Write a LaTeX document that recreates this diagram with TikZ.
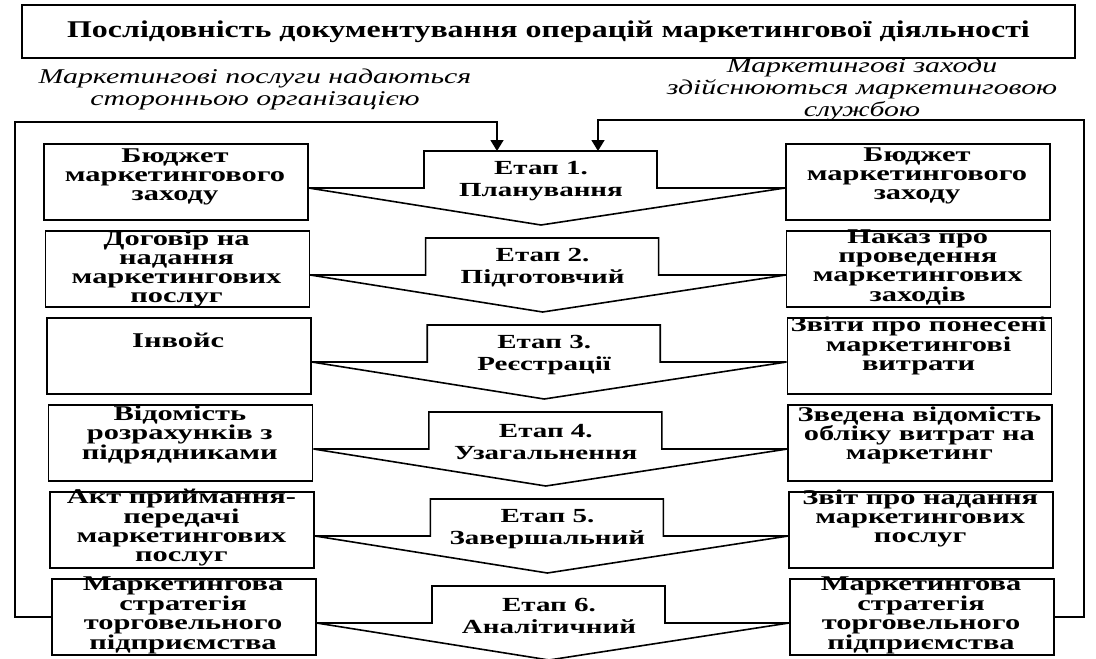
\documentclass[tikz,border=0pt]{standalone}
\usepackage{fontspec}
\setmainfont{Liberation Serif}[FakeStretch=1.45]
\newfontfamily\ttlfont{Liberation Serif}[FakeStretch=1.33]
\newfontfamily\boxfont{Liberation Serif}[FakeStretch=1.45]
\newfontfamily\capfont{Liberation Serif}[FakeStretch=1.42]
\usetikzlibrary{arrows.meta}
\begin{document}
\begin{tikzpicture}[x=1pt,y=-1pt,
  ln/.style={line width=1.6pt},
  lbox/.style={draw, ln, minimum width=264pt, minimum height=76pt, inner sep=0pt, anchor=north west},
  rbox/.style={draw, ln, minimum width=264pt, minimum height=76pt, inner sep=0pt, anchor=north west},
  btxt/.style={align=center, font=\boxfont\fontsize{21}{19}\selectfont\bfseries, inner sep=0pt},
  stxt/.style={align=center, font=\boxfont\fontsize{20}{22}\selectfont\bfseries, inner sep=0pt},
  ctxt/.style={align=center, font=\capfont\fontsize{21}{22}\selectfont\itshape, inner sep=0pt},
  stg/.style={draw, ln, line join=miter},
  arr/.style={ln, -{Triangle[width=13pt,length=11pt]}},
]
\useasboundingbox (0,0) rectangle (1096,659);
\node[draw, ln, minimum width=1053pt, minimum height=53pt, inner sep=0pt, font=\ttlfont\fontsize{24}{26}\selectfont\bfseries] (title) at (548.5,31.5) {Послідовність документування операцій маркетингової діяльності};
\node[ctxt] (capL) at (255,89) {Маркетингові послуги надаються\\сторонньою організацією};
\node[ctxt] (capR) at (862,89) {Маркетингові заходи\\здійснюються маркетинговою\\службою};
\foreach \k/\t/\dx/\dr/\lt/\lo/\rt/\ro/\sn in {
 1/151/0/0/{Бюджет\\маркетингового\\заходу}/34/{Бюджет\\маркетингового\\заходу}/33/Планування,
 2/238/1.6/0.8/{Договір на\\надання\\маркетингових\\послуг}/39/{Наказ про\\проведення\\маркетингових\\заходів}/37/Підготовчий,
 3/325/3.2/1.6/{Інвойс}/23/{Звіти про понесені\\маркетингові\\витрати}/29/Реєстрації,
 4/412/4.8/2.4/{Відомість\\розрахунків з\\підрядниками}/31/{Зведена відомість\\обліку витрат на\\маркетинг}/31/Узагальнення,
 5/499/6.4/3.2/{Акт приймання-\\передачі\\маркетингових\\послуг}/37/{Звіт про надання\\маркетингових\\послуг}/27/Завершальний,
 6/586/8/4/{Маркетингова\\стратегія\\торговельного\\підприємства}/37/{Маркетингова\\стратегія\\торговельного\\підприємства}/37/Аналітичний}
{
 \node[lbox] (L\k) at (43+\dx,\t-8) {};
 \node[rbox] (R\k) at (785+\dr,\t-8) {};
 \node[btxt] (Lt\k) at (175+\dx,\t-8+\lo) {\lt};
 \node[btxt] (Rt\k) at (917+\dr,\t-8+\ro) {\rt};
 \draw[stg] (L\k.east |- 0,\t+37) -- (424+\dx,\t+37) -- (424+\dx,\t) -- (657+\dx,\t) -- (657+\dx,\t+37) -- (R\k.west |- 0,\t+37) -- (541+\dx,\t+74) -- cycle;
 \node[stxt] (S\k) at (541+\dx,\t+30) {Етап \k.\\\sn};
}
\coordinate (inL) at (497,151);
\coordinate (inR) at (598,151);
\draw[arr] (L6.west) -| (15,122) -| (inL);
\draw[arr] (R6.east) -| (1084,120) -| (inR);
\end{tikzpicture}
\end{document}
